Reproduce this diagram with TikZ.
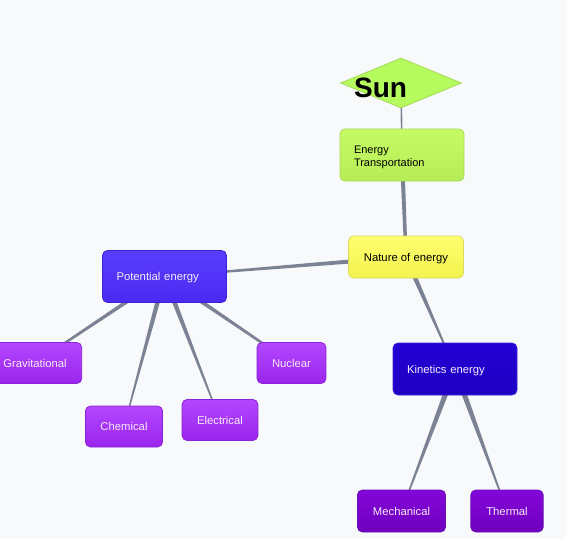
\documentclass[tikz,border=0pt]{standalone}
\usepackage{fontspec}
\setmainfont{Liberation Sans}
\usetikzlibrary{shapes.geometric,calc}

\pgfdeclarelayer{bg}
\pgfdeclarelayer{edges}
\pgfsetlayers{bg,edges,main}

\definecolor{paper}{HTML}{F8F9FA}
\definecolor{linkgray}{HTML}{7A8294}

% Enlace que se adelgaza del nodo padre al nodo hijo.
\newcommand{\taperlink}[4]{%
    \fill[linkgray] let \p1=($(#2)-(#1)$), \n1={atan2(\y1,\x1)} in
        ($(#1)+(\n1+90:#3)$) -- ($(#2)+(\n1+90:#4)$)
        -- ($(#2)+(\n1-90:#4)$) -- ($(#1)+(\n1-90:#3)$) -- cycle;}

\begin{document}
\begin{tikzpicture}[x=1pt, y=-1pt,
    every node/.style={font=\fontsize{11.3}{13}\selectfont},
    box/.style={rounded corners=5pt, draw, line width=.8pt, inner ysep=0pt,
        text depth=0pt},
    lightbox/.style={box, text=black},
    darkbox/.style={box, text=white!92!violet},
    wide/.style={minimum width=124pt, minimum height=52pt, inner xsep=14pt,
        text width=96pt, align=left},
    leaf/.style={darkbox, minimum height=41pt, inner xsep=15pt,
        top color=violet1top, bottom color=violet1bot, draw=violet1line},
    leafdeep/.style={darkbox, minimum height=42pt, inner xsep=15.5pt,
        top color=violet2top, bottom color=violet2bot, draw=violet2line}]

    \definecolor{greentop}{HTML}{C6FB66}
    \definecolor{greenbot}{HTML}{B6EC55}
    \definecolor{greenline}{HTML}{A6DA58}
    \definecolor{yellowtop}{HTML}{FFFF70}
    \definecolor{yellowbot}{HTML}{F2F24E}
    \definecolor{yellowline}{HTML}{DADA62}
    \definecolor{bluetop}{HTML}{5A3DFF}
    \definecolor{bluebot}{HTML}{4A2AF0}
    \definecolor{blueline}{HTML}{3C22D2}
    \definecolor{navytop}{HTML}{2400D4}
    \definecolor{navybot}{HTML}{1E00C2}
    \definecolor{navyline}{HTML}{3A22DA}
    \definecolor{violet1top}{HTML}{B347FF}
    \definecolor{violet1bot}{HTML}{9A24EC}
    \definecolor{violet1line}{HTML}{8C22D6}
    \definecolor{violet2top}{HTML}{8406DA}
    \definecolor{violet2bot}{HTML}{6E00BC}
    \definecolor{violet2line}{HTML}{6A10B8}

    % Fondo y caja de la figura.
    \begin{pgfonlayer}{bg}
        \fill[paper] (0,0) rectangle (566,539);
    \end{pgfonlayer}
    \useasboundingbox (0,0) rectangle (566,539);

    % Raíz del mapa.
    \node[diamond, draw=greenline, fill=greentop!92!green, line width=.8pt,
        minimum width=121pt, minimum height=50pt, inner sep=0pt] (sun) at (401,83) {};
    \node[anchor=base west, inner sep=0pt,
        font=\fontsize{28}{30}\selectfont\bfseries] (suntext) at (354,97) {Sun};

    % Nodos intermedios.
    \node[lightbox, wide, top color=greentop, bottom color=greenbot, draw=greenline,
        text depth=10pt, font=\fontsize{11}{12.5}\selectfont] (transp) at (402,155)
        {Energy\\Transportation};
    \node[lightbox, minimum width=115pt, minimum height=42pt, inner xsep=13pt,
        top color=yellowtop, bottom color=yellowbot, draw=yellowline]
        (nature) at (406,257) {Nature of energy};
    \node[darkbox, wide, top color=bluetop, bottom color=bluebot, draw=blueline]
        (potential) at (164.5,276.5) {Potential energy};
    \node[darkbox, wide, top color=navytop, bottom color=navybot, draw=navyline]
        (kinetic) at (455,369) {Kinetics energy};

    % Formas de energía potencial.
    \node[leaf] (grav) at (35,363) {Gravitational};
    \node[leaf] (chem) at (124,426.5) {Chemical};
    \node[leaf] (elec) at (220,420) {Electrical};
    \node[leaf] (nuc) at (291.5,363) {Nuclear};

    % Formas de energía cinética.
    \node[leafdeep] (mech) at (401.5,511) {Mechanical};
    \node[leafdeep] (therm) at (507,511) {Thermal};

    % Enlaces entre nodos.
    \begin{pgfonlayer}{edges}
        \taperlink{sun}{transp}{.8pt}{.8pt}
        \taperlink{transp}{nature}{2.2pt}{1.6pt}
        \taperlink{nature}{potential}{2.4pt}{.8pt}
        \taperlink{nature}{kinetic}{2.6pt}{.5pt}
        \taperlink{potential}{grav}{2.2pt}{1pt}
        \taperlink{potential}{chem}{2.6pt}{.5pt}
        \taperlink{potential}{elec}{2.6pt}{.5pt}
        \taperlink{potential}{nuc}{2.2pt}{1pt}
        \taperlink{kinetic}{mech}{3pt}{.5pt}
        \taperlink{kinetic}{therm}{3pt}{.5pt}
    \end{pgfonlayer}
\end{tikzpicture}
\end{document}
